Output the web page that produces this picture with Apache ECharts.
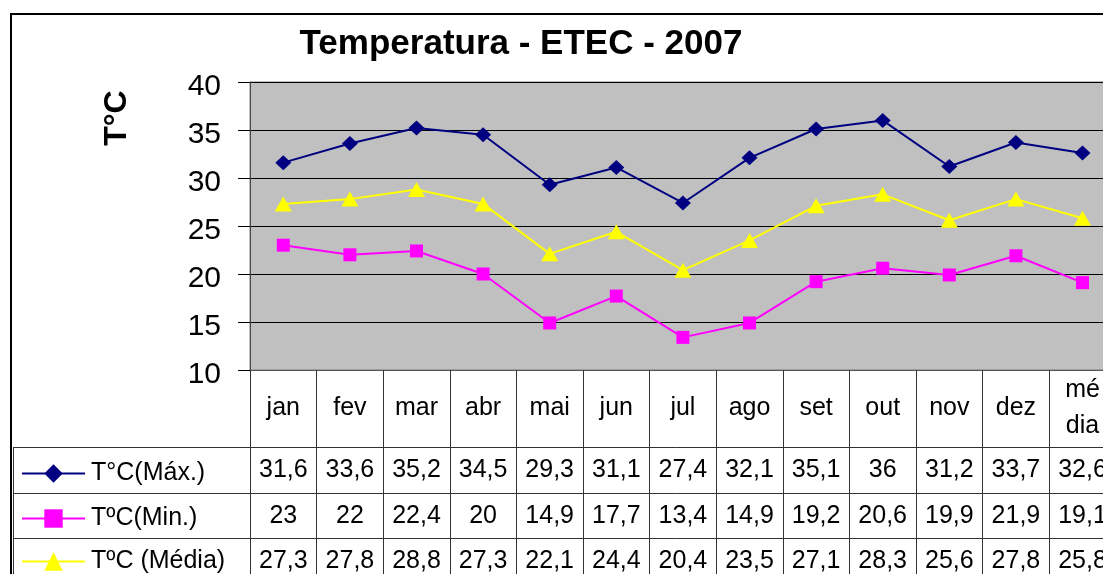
<!DOCTYPE html>
<html>
<head>
<meta charset="utf-8">
<script src="https://cdn.jsdelivr.net/npm/echarts@6/dist/echarts.min.js"></script>
<style>
html,body{margin:0;padding:0;background:#fff;}
#c{width:1103px;height:574px;}
</style>
</head>
<body>
<div id="c"></div>
<script>
var categories = ['jan','fev','mar','abr','mai','jun','jul','ago','set','out','nov','dez','média'];
var seriesNames = ['T°C(Máx.)','TºC(Min.)','TºC (Média)'];
var maxValues = [31.6,33.6,35.2,34.5,29.3,31.1,27.4,32.1,35.1,36,31.2,33.7,32.6];
var minValues = [23,22,22.4,20,14.9,17.7,13.4,14.9,19.2,20.6,19.9,21.9,19.1];
var medValues = [27.3,27.8,28.8,27.3,22.1,24.4,20.4,23.5,27.1,28.3,25.6,27.8,25.8];
var yTicks = [10,15,20,25,30,35,40];

var FONT = 'Liberation Sans, Arial, sans-serif';
var LINE = '#333';
function fmt(v){ return String(v).replace('.', ','); }

var gridLeft = 250, gridTop = 82, colW = 66.6, gridH = 288;
var headerH = 77, rowOffsets = [77, 123, 168], rowH = [46, 45, 40];

function rowAxis(values, i){
  return {
    type:'category', gridIndex:0, position:'bottom', offset: rowOffsets[i],
    data: categories, boundaryGap:true,
    axisLine:{show:true, lineStyle:{color:LINE, width:1}},
    axisTick:{show:true, interval:0, length: rowH[i], lineStyle:{color:LINE, width:1}},
    axisLabel:{interval:0, margin:23, verticalAlign:'middle', fontSize:25, color:'#000', fontFamily:FONT,
      hideOverlap:false,
      formatter:function(v, idx){ return fmt(values[idx]); }},
    splitLine:{show:false}
  };
}

var chart = echarts.init(document.getElementById('c'), null, {renderer:'canvas'});
var legendTops = [461, 506, 549];
var colors = ['#000080', '#FF00FF', '#FFFF00'];
var symbols = ['diamond', 'rect', 'triangle'];
var symbolSizes = [[16,15], 13, [17,15]];
var allValues = [maxValues, minValues, medValues];

var option = {
  animation:false,
  backgroundColor:'#fff',
  title:{
    text:'Temperatura - ETEC - 2007', left:521, top:27, padding:0, textAlign:'center',
    textStyle:{fontFamily:FONT, fontWeight:'bold', fontSize:35, color:'#000'}
  },
  legend: seriesNames.map(function(n, i){
    return {
      data:[n], left:21, top:legendTops[i], orient:'vertical', padding:0,
      itemWidth:63, itemHeight:23, itemGap:0, selectedMode:false,
      textStyle:{fontFamily:FONT, fontSize:25, color:'#000', padding:[0,0,0,1]}
    };
  }),
  grid:{left:gridLeft, top:gridTop, width:colW*categories.length, height:gridH,
    outerBoundsMode:'none', containLabel:false,
    show:true, backgroundColor:'#C0C0C0', borderColor:'#808080', borderWidth:1},
  xAxis:[
    {
      type:'category', data:categories, boundaryGap:true, position:'bottom',
      axisLine:{show:true, lineStyle:{color:'#555', width:1}},
      axisTick:{show:true, interval:0, length:headerH, lineStyle:{color:LINE, width:1}},
      axisLabel:{interval:0, margin:38, verticalAlign:'middle', fontSize:25, color:'#000', fontFamily:FONT,
        lineHeight:36, hideOverlap:false,
        formatter:function(v){ return v === 'média' ? 'mé\ndia' : v; }},
      splitLine:{show:false}
    },
    rowAxis(maxValues, 0),
    rowAxis(minValues, 1),
    rowAxis(medValues, 2)
  ],
  yAxis:{
    type:'value', min:yTicks[0], max:yTicks[yTicks.length-1], interval:5,
    axisLine:{show:true, lineStyle:{color:'#444', width:1}},
    axisTick:{show:true, length:12, lineStyle:{color:'#000'}},
    axisLabel:{color:'#000', margin:29, formatter:'{v|{value}}',
      rich:{v:{fontSize:30, fontFamily:FONT, color:'#000', padding:[9,0,0,0]}}},
    splitLine:{show:true, lineStyle:{color:'#000', width:1}}
  },
  series: allValues.map(function(vals, i){
    return {
      name:seriesNames[i], type:'line', data:vals, xAxisIndex:0,
      symbol:symbols[i], symbolSize:symbolSizes[i], showAllSymbol:true,
      lineStyle:{color:colors[i], width:2},
      itemStyle:{color:colors[i], borderWidth:0},
      z: 3 - i
    };
  }),
  graphic:[
    {type:'rect', shape:{x:11, y:14, width:1200, height:700}, style:{fill:null, stroke:'#000', lineWidth:2}, silent:true, z:100},
    {type:'line', shape:{x1:13.5, y1:447, x2:13.5, y2:574}, style:{stroke:LINE, lineWidth:1}, silent:true},
    {type:'line', shape:{x1:13, y1:447.5, x2:250, y2:447.5}, style:{stroke:LINE, lineWidth:1}, silent:true},
    {type:'line', shape:{x1:13, y1:493.5, x2:250, y2:493.5}, style:{stroke:LINE, lineWidth:1}, silent:true},
    {type:'line', shape:{x1:13, y1:538.5, x2:250, y2:538.5}, style:{stroke:LINE, lineWidth:1}, silent:true},
    {type:'text', x:117, y:118, rotation:Math.PI/2,
      style:{text:'T°C', font:'bold 32px ' + FONT, fill:'#000', align:'center', verticalAlign:'middle'}, silent:true}
  ]
};
chart.setOption(option);
</script>
</body>
</html>
